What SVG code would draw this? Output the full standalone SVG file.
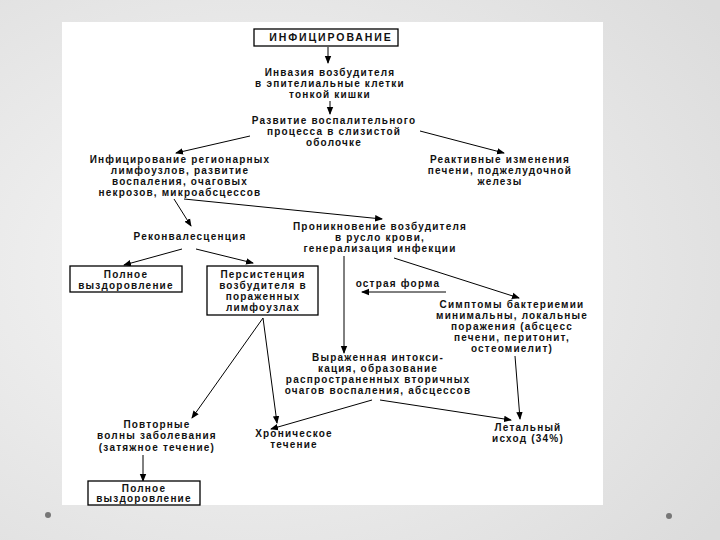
<svg xmlns="http://www.w3.org/2000/svg" width="720" height="540" viewBox="0 0 720 540">
<defs>
<radialGradient id="bg" cx="0.35" cy="0.5" r="0.8">
<stop offset="0" stop-color="#f7f7f7"/>
<stop offset="1" stop-color="#dcdcdc"/>
</radialGradient>
<marker id="ah" markerWidth="8" markerHeight="8" refX="7" refY="4" orient="auto" markerUnits="userSpaceOnUse">
<path d="M0,0.8 L8,4 L0,7.2 Z" fill="#000"/>
</marker>
<style>
text{font-family:"Liberation Sans",Arial,sans-serif;font-size:10px;font-weight:bold;fill:#111;text-anchor:middle;letter-spacing:1.2px}
.box{fill:#fff;stroke:#000;stroke-width:1.3}
.c line{stroke:#000;stroke-width:1;marker-end:url(#ah)}
</style>
</defs>
<rect x="0" y="0" width="720" height="540" fill="url(#bg)"/>
<rect x="62" y="22" width="541" height="483" fill="#fff"/>
<circle cx="48" cy="515" r="3" fill="#777"/>
<circle cx="669" cy="516" r="3" fill="#777"/>

<g class="c">
<line x1="328" y1="47" x2="328" y2="63"/>
<line x1="330" y1="101" x2="330" y2="114"/>
<line x1="250" y1="136" x2="176" y2="153"/>
<line x1="420" y1="131" x2="504" y2="153"/>
<line x1="174" y1="199" x2="191" y2="226"/>
<line x1="184" y1="199" x2="382" y2="219"/>
<line x1="182" y1="249" x2="124" y2="265"/>
<line x1="196" y1="249" x2="253" y2="263"/>
<line x1="344" y1="256" x2="344" y2="353"/>
<line x1="394" y1="258" x2="519" y2="298"/>
<line x1="446" y1="292" x2="362" y2="292"/>
<line x1="263" y1="318" x2="192" y2="418"/>
<line x1="263" y1="318" x2="277" y2="423"/>
<line x1="515" y1="356" x2="520" y2="419"/>
<line x1="372" y1="400" x2="271" y2="429"/>
<line x1="380" y1="400" x2="511" y2="420"/>
<line x1="143" y1="455" x2="143" y2="481"/>
</g>

<g id="n-infect">
<rect class="box" x="254" y="29" width="144" height="17"/>
<text x="331" y="41" style="font-size:10.5px;letter-spacing:1.9px">ИНФИЦИРОВАНИЕ</text>
</g>
<g id="n-invasion">
<text x="330" y="76">Инвазия возбудителя</text>
<text x="330" y="87">в эпителиальные клетки</text>
<text x="330" y="98">тонкой кишки</text>
</g>
<g id="n-inflam">
<text x="334" y="124">Развитие воспалительного</text>
<text x="334" y="135">процесса в слизистой</text>
<text x="334" y="146">оболочке</text>
</g>
<g id="n-lymph">
<text x="180" y="163">Инфицирование регионарных</text>
<text x="180" y="174">лимфоузлов, развитие</text>
<text x="180" y="185">воспаления, очаговых</text>
<text x="180" y="196">некрозов, микроабсцессов</text>
</g>
<g id="n-reactive">
<text x="500" y="163">Реактивные изменения</text>
<text x="500" y="174">печени, поджелудочной</text>
<text x="500" y="185">железы</text>
</g>
<g id="n-reconv">
<text x="190" y="240">Реконвалесценция</text>
</g>
<g id="n-blood">
<text x="380" y="230">Проникновение возбудителя</text>
<text x="380" y="241">в русло крови,</text>
<text x="380" y="252">генерализация инфекции</text>
</g>
<g id="n-recov1">
<rect class="box" x="70" y="266" width="112" height="26"/>
<text x="126" y="278">Полное</text>
<text x="126" y="289">выздоровление</text>
</g>
<g id="n-persist">
<rect class="box" x="207" y="266" width="111" height="49"/>
<text x="263" y="278">Персистенция</text>
<text x="263" y="289">возбудителя в</text>
<text x="263" y="300">пораженных</text>
<text x="263" y="311">лимфоузлах</text>
</g>
<g id="n-acute">
<text x="398" y="287">острая форма</text>
</g>
<g id="n-bact">
<text x="512" y="308">Симптомы бактериемии</text>
<text x="512" y="319">минимальны, локальные</text>
<text x="512" y="330">поражения (абсцесс</text>
<text x="512" y="341">печени, перитонит,</text>
<text x="512" y="352">остеомиелит)</text>
</g>
<g id="n-intox">
<text x="378" y="361">Выраженная интокси-</text>
<text x="378" y="372">кация, образование</text>
<text x="378" y="383">распространенных вторичных</text>
<text x="378" y="394">очагов воспаления, абсцессов</text>
</g>
<g id="n-waves">
<text x="157" y="428">Повторные</text>
<text x="157" y="439">волны заболевания</text>
<text x="157" y="451">(затяжное течение)</text>
</g>
<g id="n-chronic">
<text x="294" y="437">Хроническое</text>
<text x="294" y="448">течение</text>
</g>
<g id="n-lethal">
<text x="528" y="431">Летальный</text>
<text x="528" y="442">исход (34%)</text>
</g>
<g id="n-recov2">
<rect class="box" x="88" y="481" width="112" height="24"/>
<text x="144" y="492">Полное</text>
<text x="144" y="502">выздоровление</text>
</g>
</svg>
